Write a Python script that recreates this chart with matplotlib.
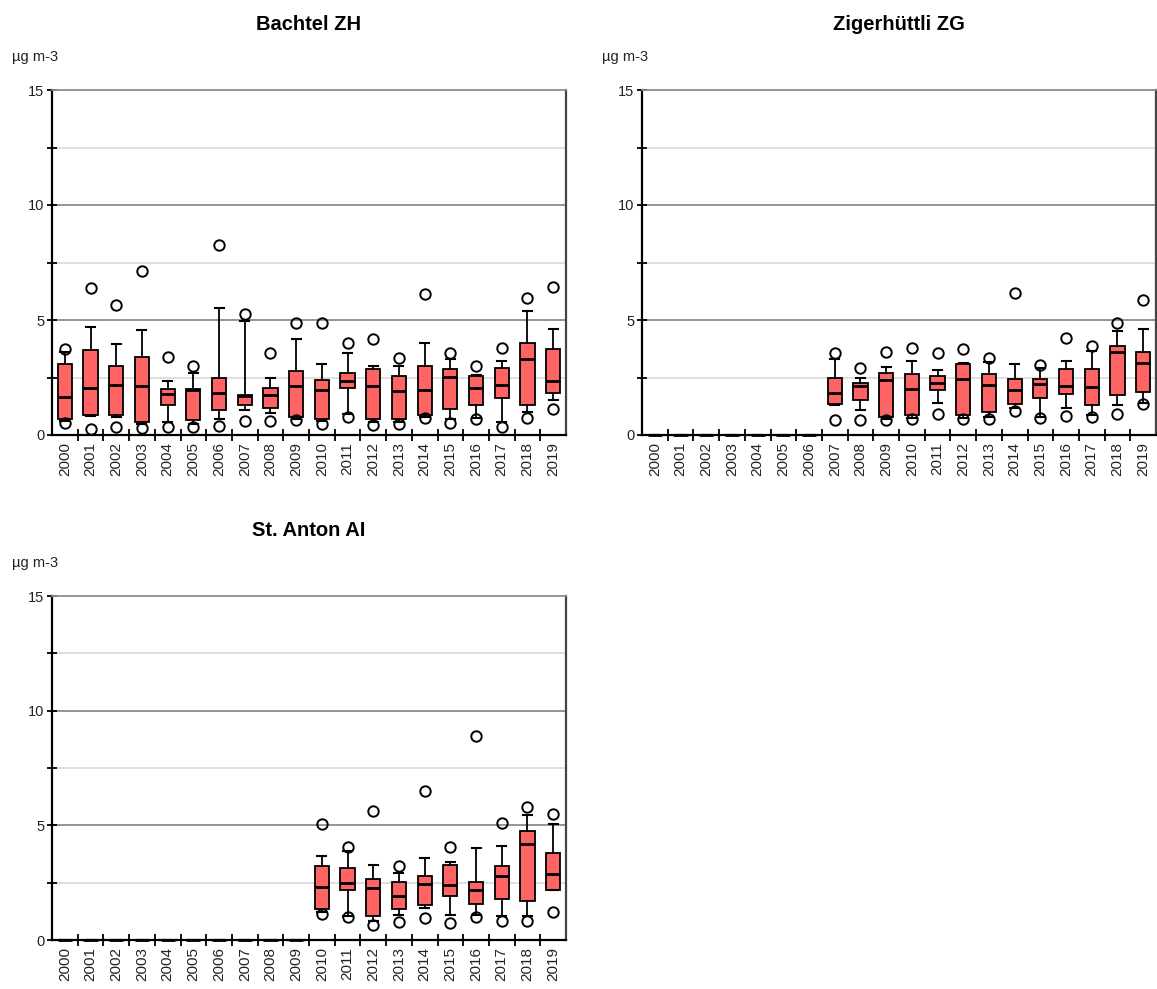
import numpy as np
import matplotlib
matplotlib.use("Agg")
import matplotlib.pyplot as plt
from matplotlib.ticker import FixedLocator, NullFormatter

plt.rcParams['font.family'] = ['Liberation Sans', 'DejaVu Sans']

years = [str(y) for y in range(2000, 2020)]
unit = "µg m-3"

# Bachtel ZH: quartiles, whiskers and outliers per year (None = no data)
bachtel_q1 = [0.71, 0.86, 0.86, 0.55, 1.31, 0.64, 1.08, 1.31, 1.17, 0.78,
              0.71, 2.03, 0.71, 0.71, 0.86, 1.14, 1.29, 1.59, 1.29, 1.81]
bachtel_med = [1.65, 2.04, 2.19, 2.11, 1.79, 1.95, 1.82, 1.68, 1.75, 2.13,
               1.96, 2.35, 2.13, 1.91, 1.96, 2.54, 2.03, 2.17, 3.30, 2.35]
bachtel_q3 = [3.09, 3.69, 3.02, 3.38, 1.98, 1.98, 2.49, 1.75, 2.06, 2.77,
              2.39, 2.70, 2.86, 2.55, 3.00, 2.86, 2.55, 2.91, 4.01, 3.72]
bachtel_wlo = [0.62, 0.82, 0.80, 0.50, 0.55, 0.50, 0.71, 1.10, 0.95, 0.70,
               0.62, 0.92, 0.55, 0.55, 0.80, 0.70, 0.75, 0.55, 0.99, 1.52]
bachtel_whi = [3.62, 4.71, 3.96, 4.56, 2.35, 2.70, 5.52, 4.96, 2.49, 4.16,
               3.07, 3.58, 3.00, 3.00, 4.01, 3.29, 2.60, 3.22, 5.41, 4.61]
bachtel_out = [[3.75, 0.51], [6.38, 0.26], [5.64, 0.36], [7.14, 0.30],
               [3.38, 0.33], [2.99, 0.36], [8.26, 0.41], [5.28, 0.63],
               [3.57, 0.63], [4.86, 0.65], [4.88, 0.46], [3.99, 0.78],
               [4.16, 0.42], [3.36, 0.46], [6.12, 0.72], [3.58, 0.54],
               [3.00, 0.68], [3.80, 0.36], [5.94, 0.75], [6.45, 1.14]]

# Zigerhüttli ZG
ziger_q1 = [None] * 7 + [1.36, 1.54, 0.80, 0.86, 1.96, 0.86, 1.00, 1.36,
                         1.61, 1.80, 1.29, 1.74, 1.88]
ziger_med = [None] * 7 + [1.81, 2.13, 2.39, 1.99, 2.26, 2.43, 2.17, 1.96,
                          2.22, 2.13, 2.10, 3.62, 3.13]
ziger_q3 = [None] * 7 + [2.48, 2.28, 2.71, 2.64, 2.55, 3.07, 2.64, 2.43,
                         2.43, 2.86, 2.86, 3.87, 3.59]
ziger_wlo = [None] * 7 + [1.30, 1.09, 0.70, 0.75, 1.38, 0.75, 0.80, 1.16,
                          0.80, 1.19, 0.87, 1.29, 1.41]
ziger_whi = [None] * 7 + [3.30, 2.48, 2.94, 3.23, 2.84, 3.13, 3.17, 3.07,
                          2.90, 3.23, 3.67, 4.54, 4.61]
ziger_out = [None] * 7 + [[3.55, 0.65], [2.93, 0.64], [3.59, 0.64],
                          [3.80, 0.68], [3.57, 0.90], [3.74, 0.68],
                          [3.36, 0.68], [6.17, 1.06], [3.03, 0.74],
                          [4.20, 0.81], [3.87, 0.80], [4.88, 0.93],
                          [5.86, 1.35]]

# St. Anton AI
anton_q1 = [None] * 10 + [1.36, 2.16, 1.06, 1.36, 1.52, 1.94, 1.59, 1.80,
                          1.72, 2.17]
anton_med = [None] * 10 + [2.32, 2.48, 2.25, 1.91, 2.46, 2.38, 2.20, 2.78,
                           4.20, 2.87]
anton_q3 = [None] * 10 + [3.22, 3.13, 2.68, 2.54, 2.77, 3.29, 2.54, 3.22,
                          4.74, 3.80]
anton_wlo = [None] * 10 + [1.20, 1.05, 0.85, 1.10, 1.38, 1.09, 1.10, 1.05,
                           1.05, 2.17]
anton_whi = [None] * 10 + [3.65, 3.88, 3.29, 2.93, 3.58, 3.41, 4.01, 4.09,
                           5.46, 5.04]
anton_out = [None] * 10 + [[5.07, 1.12], [4.06, 0.99], [5.61, 0.64],
                           [3.23, 0.80], [6.51, 0.96], [4.06, 0.75],
                           [8.91, 1.01], [5.12, 0.83], [5.80, 0.83],
                           [5.51, 1.22]]

stations = [
    ("Bachtel ZH", bachtel_q1, bachtel_med, bachtel_q3, bachtel_wlo, bachtel_whi, bachtel_out),
    ("Zigerhüttli ZG", ziger_q1, ziger_med, ziger_q3, ziger_wlo, ziger_whi, ziger_out),
    ("St. Anton AI", anton_q1, anton_med, anton_q3, anton_wlo, anton_whi, anton_out),
]

W, H = 1157, 989
fig = plt.figure(figsize=(W / 100, H / 100), dpi=100)

# axes rectangles in pixels: left, top, width, height
rects = [(52, 90, 514, 345), (642, 90, 514, 345), (52, 596, 514, 344)]

box_color = "#ff6464"

for (name, q1, med, q3, wlo, whi, out), (lx, ty, w, h) in zip(stations, rects):
    ax = fig.add_axes([lx / W, 1 - (ty + h) / H, w / W, h / H])
    stats = []
    for i in range(len(years)):
        if q1[i] is None:
            # years without data collapse to a flat box on the baseline
            stats.append(dict(med=0, q1=0, q3=0, whislo=0, whishi=0, fliers=[]))
        else:
            stats.append(dict(med=med[i], q1=q1[i], q3=q3[i],
                              whislo=wlo[i], whishi=whi[i], fliers=out[i]))
    pos = np.arange(len(years))
    parts = ax.bxp(stats, positions=pos, widths=0.55, patch_artist=True,
                   capwidths=0.35,
                   boxprops=dict(facecolor=box_color, edgecolor="black", linewidth=1.3),
                   medianprops=dict(color="black", linewidth=2.0),
                   whiskerprops=dict(color="black", linewidth=1.3),
                   capprops=dict(color="black", linewidth=1.5),
                   flierprops=dict(marker="o", markerfacecolor="none",
                                   markeredgecolor="black", markersize=7.5,
                                   markeredgewidth=1.4),
                   zorder=3)
    for group in parts.values():
        for art in group:
            art.set_clip_on(False)

    ax.set_xlim(-0.5, len(years) - 0.5)
    ax.set_ylim(0, 15)

    # gridlines: darker at labelled values, lighter in between
    for v in (2.5, 7.5, 12.5):
        ax.axhline(v, color="#dcdcdc", linewidth=1.3, zorder=1)
    for v in (5, 10):
        ax.axhline(v, color="#8c8c8c", linewidth=1.3, zorder=1)

    ax.yaxis.set_major_locator(FixedLocator([0, 5, 10, 15]))
    ax.yaxis.set_minor_locator(FixedLocator([2.5, 7.5, 12.5]))
    ax.tick_params(axis="y", which="both", direction="inout", length=7,
                   width=1.3, labelsize=10.5, colors="black", pad=2)
    ax.tick_params(axis="y", labelcolor="#222222")

    ax.set_xticks(pos)
    ax.set_xticklabels(years, rotation=90, fontsize=11, color="#222222")
    ax.tick_params(axis="x", which="major", length=0, pad=5)
    ax.xaxis.set_minor_locator(FixedLocator(np.arange(0.5, len(years) - 1, 1.0)))
    ax.xaxis.set_minor_formatter(NullFormatter())
    ax.tick_params(axis="x", which="minor", direction="inout", length=9,
                   width=1.3, colors="black")

    ax.spines["left"].set_linewidth(1.6)
    ax.spines["bottom"].set_linewidth(1.6)
    ax.spines["top"].set_color("#8c8c8c")
    ax.spines["top"].set_linewidth(1.3)
    ax.spines["right"].set_color("#444444")
    ax.spines["right"].set_linewidth(1.6)

    cx = (lx + w / 2) / W
    fig.text(cx, 1 - (ty - 66) / H, name, ha="center", va="center",
             fontsize=14.5, fontweight="bold")
    fig.text((lx - 40) / W, 1 - (ty - 33) / H, unit, ha="left",
             va="center", fontsize=10.5, color="#222222")

fig.savefig("out.png", dpi=100)
